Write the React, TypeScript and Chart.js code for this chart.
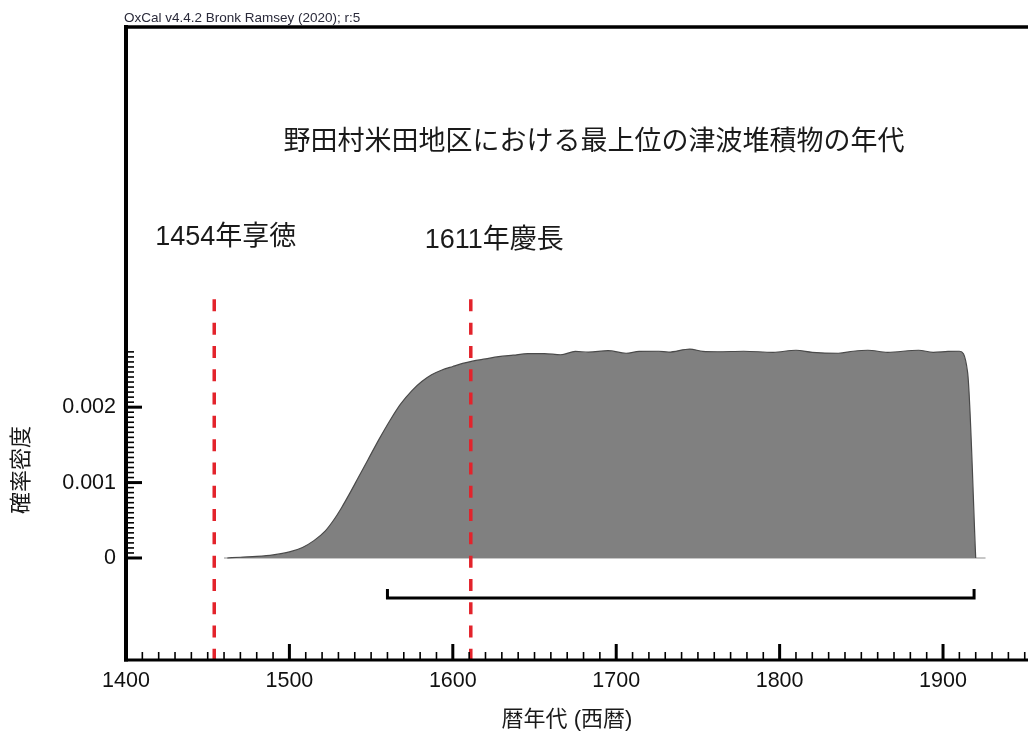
import { useEffect, useRef } from 'react';
import { Chart, registerables } from 'chart.js';

Chart.register(...registerables);

// Calibrated age distribution (cal AD) and its probability density
const calYears = [
  1462, 1470, 1480, 1490, 1500, 1508, 1515, 1522, 1527, 1532, 1537, 1542, 1548, 1555,
  1562, 1568, 1575, 1581, 1587, 1593, 1600, 1606, 1612, 1620, 1628, 1637, 1646, 1656,
  1666, 1675, 1683, 1695, 1706, 1714, 1726, 1732, 1745, 1753, 1762, 1778, 1796, 1810,
  1820, 1836, 1845, 1854, 1866, 1885, 1894, 1903, 1910, 1915, 1920,
];
const density = [
  0, 0.00001, 0.00002, 0.00004, 0.00008, 0.00014, 0.00023, 0.00036, 0.0005, 0.00067,
  0.00086, 0.00106, 0.0013, 0.00158, 0.00184, 0.00204, 0.00222, 0.00234, 0.00243, 0.00249,
  0.00254, 0.00258, 0.00261, 0.00264, 0.00267, 0.00269, 0.00271, 0.00271, 0.002695,
  0.00274, 0.00273, 0.00275, 0.002715, 0.00274, 0.002742, 0.00273, 0.00277, 0.00274,
  0.002735, 0.002742, 0.002728, 0.002755, 0.002728, 0.002715, 0.002742, 0.002755,
  0.002728, 0.002755, 0.002728, 0.00274, 0.002742, 0.00247, 0,
];

// Baseline under the distribution
const baselineYears = [1460, 1926];

// Historical tsunami events
const eventYears = [1454, 1611];
const eventLabels = ['1454年享徳', '1611年慶長'];
const eventLineTop = 0.00343;

// 95.4% range bracket
const rangeYears = [1560, 1919];
const rangeLevel = -0.00053;
const rangeCapLevel = -0.00041;

// Axes
const xMin = 1400;
const xMax = 1952;
const yMin = -0.001353;
const yMax = 0.007042;
const xTickValues = [1400, 1500, 1600, 1700, 1800, 1900];
const xTickLabels = ['1400', '1500', '1600', '1700', '1800', '1900'];
const yTickValues = [0, 0.001, 0.002];
const yTickLabels = ['0', '0.001', '0.002'];
const xMinorStep = 10;
const yMinorStep = 0.001 / 15;
const yMinorTop = 0.00274;

const chartTitle = '野田村米田地区における最上位の津波堆積物の年代';
const xTitle = '暦年代 (西暦)';
const yTitle = '確率密度';
const creditText = 'OxCal v4.4.2 Bronk Ramsey (2020); r:5';

const FONT = "'Liberation Sans', 'Noto Sans CJK JP', Arial, sans-serif";
const EVENT_RED = '#e3232b';

const framePlugin = {
  id: 'oxcalFrame',
  afterDatasetsDraw(chart: any) {
    const { ctx, chartArea, scales } = chart;
    const { left, top, right, bottom } = chartArea;
    const x = scales.x;
    const y = scales.y;
    ctx.save();
    ctx.strokeStyle = '#000';
    ctx.lineCap = 'butt';

    const seg = (x1: number, y1: number, x2: number, y2: number, w: number) => {
      ctx.lineWidth = w;
      ctx.beginPath();
      ctx.moveTo(x1, y1);
      ctx.lineTo(x2, y2);
      ctx.stroke();
    };

    // x minor / major ticks, pointing into the plot
    for (let yr = xMin + xMinorStep; yr <= xMax; yr += xMinorStep) {
      if (yr % 100 === 0) continue;
      const px = x.getPixelForValue(yr);
      seg(px, bottom, px, bottom - 8, 1.6);
    }
    xTickValues.forEach((v) => {
      const px = x.getPixelForValue(v);
      seg(px, bottom, px, bottom - 16, 3);
    });

    // y minor / major ticks
    for (let i = 1; i * yMinorStep <= yMinorTop + 1e-9; i++) {
      if (i % 15 === 0) continue;
      const py = y.getPixelForValue(i * yMinorStep);
      seg(left, py, left + 8, py, 1.6);
    }
    yTickValues.forEach((v) => {
      const py = y.getPixelForValue(v);
      seg(left, py, left + 16, py, 3);
    });

    // frame: left, top and bottom lines
    seg(left, top - 2, left, bottom + 1.5, 4);
    seg(left - 2, top, right, top, 3.5);
    seg(left - 2, bottom, right, bottom, 3);
    ctx.restore();
  },
  afterDraw(chart: any) {
    const { ctx, scales } = chart;
    const x = scales.x;
    ctx.save();

    // credit line
    ctx.font = `13.5px ${FONT}`;
    ctx.textAlign = 'left';
    ctx.textBaseline = 'alphabetic';
    ctx.fillStyle = '#2a2a3a';
    ctx.fillText(creditText, 124, 22);

    // title
    ctx.fillStyle = '#1a1a1a';
    ctx.font = `27px ${FONT}`;
    ctx.textAlign = 'center';
    ctx.textBaseline = 'middle';
    ctx.fillText(chartTitle, 594, 143);

    // event labels
    const labelOffsets = [-59, -46];
    const labelMidY = [238, 241];
    ctx.textAlign = 'left';
    eventYears.forEach((yr, i) => {
      const px = x.getPixelForValue(yr);
      ctx.fillText(eventLabels[i], px + labelOffsets[i], labelMidY[i]);
    });

    // axis titles
    ctx.font = `22px ${FONT}`;
    ctx.textAlign = 'center';
    ctx.fillText(xTitle, 567, 720);
    ctx.translate(22, 470);
    ctx.rotate(-Math.PI / 2);
    ctx.fillText(yTitle, 0, 0);
    ctx.restore();
  },
};

export default function App() {
  const canvasRef = useRef<HTMLCanvasElement | null>(null);

  useEffect(() => {
    const canvas = canvasRef.current;
    if (!canvas) return;

    const densityPoints = calYears.map((yr, i) => ({ x: yr, y: density[i] }));
    const baselinePoints = baselineYears.map((yr) => ({ x: yr, y: 0 }));
    const eventDatasets = eventYears.map((yr) => ({
      data: [
        { x: yr, y: eventLineTop },
        { x: yr, y: yMin },
      ],
      showLine: true,
      borderColor: EVENT_RED,
      borderWidth: 3.5,
      borderDash: [12, 11.3],
      pointRadius: 0,
      fill: false,
      order: 0,
    }));
    const bracketPoints = [
      { x: rangeYears[0], y: rangeCapLevel },
      { x: rangeYears[0], y: rangeLevel },
      { x: rangeYears[1], y: rangeLevel },
      { x: rangeYears[1], y: rangeCapLevel },
    ];

    const chart = new Chart(canvas, {
      type: 'scatter',
      data: {
        datasets: [
          ...eventDatasets,
          {
            data: bracketPoints,
            showLine: true,
            borderColor: '#000',
            borderWidth: 3,
            borderJoinStyle: 'miter',
            pointRadius: 0,
            fill: false,
            order: 1,
          },
          {
            data: baselinePoints,
            showLine: true,
            borderColor: '#b4b4b4',
            borderWidth: 1.5,
            pointRadius: 0,
            fill: false,
            order: 3,
          },
          {
            data: densityPoints,
            showLine: true,
            borderColor: '#4a4a4a',
            borderWidth: 1.2,
            backgroundColor: '#808080',
            fill: 'origin',
            cubicInterpolationMode: 'monotone',
            pointRadius: 0,
            order: 2,
          },
        ],
      } as any,
      options: {
        animation: false,
        responsive: false,
        devicePixelRatio: 1,
        layout: { padding: { top: 27, left: 0, right: 0, bottom: 0 } },
        plugins: {
          legend: { display: false },
          tooltip: { enabled: false },
          title: { display: false },
        },
        events: [],
        scales: {
          x: {
            type: 'linear',
            min: xMin,
            max: xMax,
            afterBuildTicks: (s: any) => {
              s.ticks = xTickValues.map((v) => ({ value: v }));
            },
            afterFit: (s: any) => {
              s.height = 74;
            },
            ticks: {
              callback: (v: any) => xTickLabels[xTickValues.indexOf(Number(v))] ?? '',
              font: { family: FONT, size: 21.5 },
              color: '#111',
              padding: 8,
              maxRotation: 0,
              autoSkip: false,
            },
            grid: { display: false, drawTicks: false },
            border: { display: false },
          },
          y: {
            type: 'linear',
            min: yMin,
            max: yMax,
            afterBuildTicks: (s: any) => {
              s.ticks = yTickValues.map((v) => ({ value: v }));
            },
            afterFit: (s: any) => {
              s.width = 126;
            },
            ticks: {
              callback: (v: any) => {
                const i = yTickValues.findIndex((t) => Math.abs(t - Number(v)) < 1e-9);
                return i >= 0 ? yTickLabels[i] : '';
              },
              font: { family: FONT, size: 21.5 },
              color: '#111',
              padding: 10,
              autoSkip: false,
            },
            grid: { display: false, drawTicks: false },
            border: { display: false },
          },
        },
      } as any,
      plugins: [framePlugin],
    });

    return () => chart.destroy();
  }, []);

  return (
    <div style={{ position: 'fixed', left: 0, top: 0, width: 1028, height: 734, background: '#fff' }}>
      <canvas ref={canvasRef} width={1028} height={734} />
    </div>
  );
}
